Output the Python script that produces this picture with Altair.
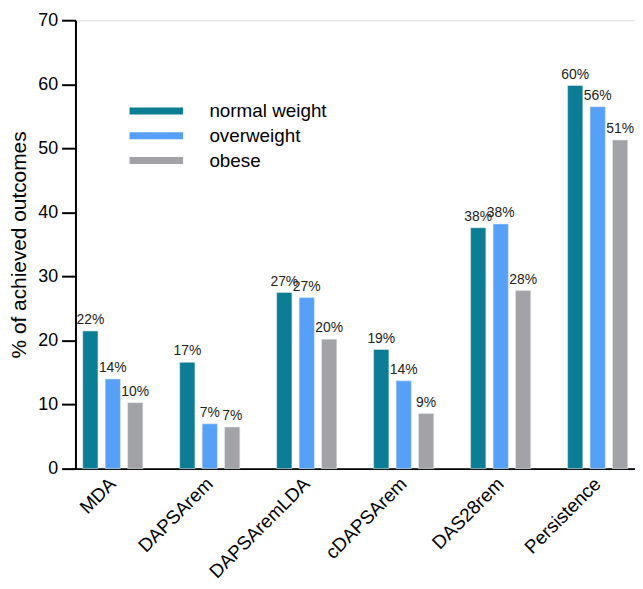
import altair as alt
import pandas as pd

categories = ["MDA", "DAPSArem", "DAPSAremLDA", "cDAPSArem", "DAS28rem", "Persistence"]
groups = ["normal weight", "overweight", "obese"]
normal_weight = [21.5, 16.6, 27.5, 18.6, 37.6, 59.8]
overweight = [14.0, 7.0, 26.7, 13.7, 38.2, 56.5]
obese = [10.3, 6.5, 20.2, 8.6, 27.8, 51.3]
labels_normal = ["22%", "17%", "27%", "19%", "38%", "60%"]
labels_over = ["14%", "7%", "27%", "14%", "38%", "56%"]
labels_obese = ["10%", "7%", "20%", "9%", "28%", "51%"]
colors = ["#0B7D94", "#56A0F7", "#A3A3A7"]

rows = []
for g, vals, labs in zip(groups, [normal_weight, overweight, obese],
                         [labels_normal, labels_over, labels_obese]):
    for c, v, l in zip(categories, vals, labs):
        rows.append({"category": c, "group": g, "value": v, "label": l})
df = pd.DataFrame(rows)

FONT = "Liberation Sans"

x_enc = alt.X("category:N", sort=categories,
              scale=alt.Scale(paddingInner=0.38, paddingOuter=0.075),
              axis=alt.Axis(title=None, labelAngle=-45, labelAlign="right",
                            labelBaseline="middle", labelPadding=12, ticks=False,
                            labelFontSize=19, labelColor="#000",
                            domainColor="#000", domainWidth=2))
xoff_enc = alt.XOffset("group:N", sort=groups,
                       scale=alt.Scale(paddingInner=0.32, paddingOuter=0))
y_enc = alt.Y("value:Q", scale=alt.Scale(domain=[0, 70], nice=False),
              axis=alt.Axis(title="% of achieved outcomes", values=list(range(0, 71, 10)),
                            grid=False, tickSize=14, tickWidth=2, tickColor="#000",
                            domainColor="#000", domainWidth=2, labelFontSize=18,
                            labelColor="#000", labelPadding=4, titleFontSize=21,
                            titleFontWeight="normal", titleColor="#000",
                            titlePadding=8))

bars = alt.Chart(df).mark_bar(stroke="#DDE8EC", strokeWidth=0.6).encode(
    x=x_enc,
    xOffset=xoff_enc,
    y=y_enc,
    color=alt.Color("group:N", sort=groups,
                    scale=alt.Scale(domain=groups, range=colors),
                    legend=alt.Legend(orient="none", legendX=72, legendY=82, title=None,
                                      symbolType="M-5.4,-0.7H5.4V0.7H-5.4Z", symbolSize=100,
                                      symbolStrokeWidth=0, labelFontSize=19,
                                      labelOffset=44, rowPadding=5, labelColor="#000")),
)

text = alt.Chart(df).mark_text(dy=-11, fontSize=14, font=FONT, color="#222").encode(
    x=alt.X("category:N", sort=categories),
    xOffset=alt.XOffset("group:N", sort=groups),
    y=alt.Y("value:Q"),
    text="label:N",
)

chart = alt.layer(bars, text).properties(
    width=564, height=452,
    autosize=alt.AutoSizeParams(type="none"),
    padding={"left": 68, "top": 10, "right": 0, "bottom": 115},
).configure_view(stroke=None).configure(font=FONT)

chart.save("out.html", embed_options={"renderer": "svg", "actions": False})
